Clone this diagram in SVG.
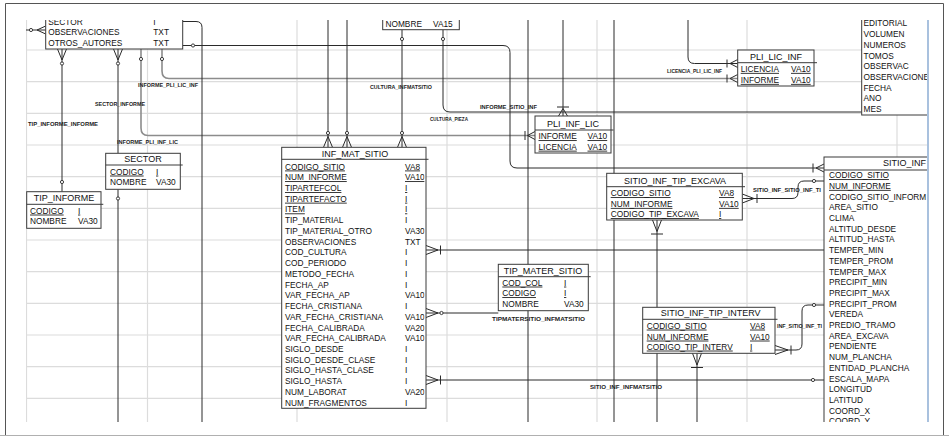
<svg xmlns="http://www.w3.org/2000/svg" width="949" height="436" viewBox="0 0 949 436">
<defs>
<style>
.grid{fill:none;stroke:#dcdcdc;stroke-width:1.2}
.ln{fill:none;stroke:#2a2a2a;stroke-width:1}
.lg{fill:none;stroke:#8c8c8c;stroke-width:1.6}
.ci{fill:#fff;stroke:#2a2a2a;stroke-width:0.9}
.box{fill:#fff;stroke:#3a3a3a;stroke-width:1}
.sep{fill:none;stroke:#3a3a3a;stroke-width:1}
.hd{font-family:"Liberation Sans",Arial,sans-serif;font-size:9px;fill:#111;text-anchor:middle}
.f{font-family:"Liberation Sans",Arial,sans-serif;font-size:8.3px;fill:#111}
.u{text-decoration:underline}
.lb{font-family:"Liberation Sans",Arial,sans-serif;font-size:5.5px;font-weight:bold;fill:#222}
</style>
<clipPath id="cv"><rect x="26" y="20" width="902" height="402"/></clipPath>
<clipPath id="cm"><rect x="282" y="147" width="142.5" height="262"/></clipPath>
</defs>
<rect x="0" y="0" width="949" height="436" fill="#fff"/>
<path d="M5.5,436V3.5H943.5V436" fill="none" stroke="#555" stroke-width="1"/>
<path d="M0,435.5H949" stroke="#b0b0b0" stroke-width="1"/>
<g clip-path="url(#cv)">
<g id="grid">
<path class="grid" d="M26,50H928M26,81.7H928M26,113.3H928M26,145H928M26,176.7H928M26,208.3H928M26,240H928M26,271.7H928M26,303.3H928M26,335H928M26,366.7H928M26,398.3H928M26.5,20V422M147.5,20V422M297,20V422M447,20V422M597,20V422M747,20V422M897,20V422"/>
</g>
<g id="connectors">
<path class="ln" d="M26,30H45.7M37,30L45.7,26M37,30L45.7,34"/>
<circle class="ci" cx="31" cy="30" r="1.6"/>
<path class="ln" d="M62,49V191.7M62,60L57.5,49M62,60L66.5,49"/>
<circle class="ci" cx="62" cy="63.5" r="1.6"/>
<circle class="ci" cx="62" cy="182" r="1.6"/>
<path class="ln" d="M118,49V153.3M118,60L113.5,49M118,60L122.5,49"/>
<circle class="ci" cx="118" cy="63.5" r="1.6"/>
<path class="ln" d="M118,189.3V422"/>
<circle class="ci" cx="118" cy="198.5" r="1.6"/>
<path class="lg" d="M141,49V128Q141,135.5 148,135.5H535"/>
<path class="ln" d="M525,131V140M527.5,135.5L535,131.5M527.5,135.5L535,139.5"/>
<circle class="ci" cx="141" cy="59" r="1.6"/>
<path class="lg" d="M162,49V71Q162,78.5 169,78.5H738"/>
<path class="ln" d="M727,74.5V82.5M730,78.5L737.7,74.5M730,78.5L737.7,82.5"/>
<circle class="ci" cx="162" cy="59" r="1.6"/>
<path class="ln" d="M182.7,21.5H196Q202,21.5 202,27.5V422"/>
<path class="ln" d="M182.7,45.5H503Q510,45.5 510,52.5V161Q510,168 517,168H824M813,163.5V172.5M816,168L824,164M816,168L824,172"/>
<circle class="ci" cx="193" cy="45.5" r="1.6"/>
<path class="ln" d="M328,20V147.3M328,136.5L323.5,147.3M328,136.5L332.5,147.3M347,20V147.3M347,136.5L342.5,147.3M347,136.5L351.5,147.3"/>
<circle class="ci" cx="328" cy="133" r="1.6"/>
<circle class="ci" cx="347" cy="133" r="1.6"/>
<path class="ln" d="M402,29.7V147.3M402,136.5L397.5,147.3M402,136.5L406.5,147.3"/>
<circle class="ci" cx="402" cy="39" r="1.6"/>
<circle class="ci" cx="402" cy="133" r="1.6"/>
<path class="ln" d="M443,29.7V105Q443,112 450,112H861.7"/>
<circle class="ci" cx="443" cy="39" r="1.6"/>
<path class="ln" d="M528,20V422"/>
<path class="ln" d="M563,20V116M557,107H569M563,108.5L558.5,116M563,108.5L567.5,116"/>
<path class="ln" d="M614,20V422"/>
<path class="ln" d="M688,20V57Q688,63.5 694.5,63.5H737.7M727,59.5V67.5M730,63.5L737.7,59.5M730,63.5L737.7,67.5"/>
<path class="ln" d="M426,250H824M438,250L426,245.5M438,250L426,254.5M440.5,245.5V254.5"/>
<path class="ln" d="M426,313H498.3M438,313L426,308.5M438,313L426,317.5"/>
<circle class="ci" cx="441.5" cy="313" r="1.6"/>
<path class="ln" d="M426,380H824M438,380L426,375.5M438,380L426,384.5M440.5,375.5V384.5"/>
<circle class="ci" cx="813" cy="380" r="1.6"/>
<path class="ln" d="M742.3,198.5H792Q798,198.5 798,192.5V187Q798,181 804,181H824M754,198.5L742.3,194M754,198.5L742.3,203M757,194V203"/>
<circle class="ci" cx="814" cy="181" r="1.6"/>
<path class="ln" d="M657,220V422M657,231.5L652.5,220M657,231.5L661.5,220M651,234H663"/>
<path class="ln" d="M697,353.3V422M697,365L692.5,353.3M697,365L701.5,353.3M691,367.5H703"/>
<path class="ln" d="M775,350H796Q802,350 802,344V311Q802,305 808,305H824M788,350L775,345.5M788,350L775,354.5M791,345.5V354.5"/>
<circle class="ci" cx="814" cy="305" r="1.6"/>
<text class="lb" x="138" y="87" textLength="60" lengthAdjust="spacingAndGlyphs">INFORME_PLI_LIC_INF</text>
<text class="lb" x="95" y="106.3" textLength="50" lengthAdjust="spacingAndGlyphs">SECTOR_INFORME</text>
<text class="lb" x="28" y="126" textLength="70" lengthAdjust="spacingAndGlyphs">TIP_INFORME_INFORME</text>
<text class="lb" x="117" y="144" textLength="61" lengthAdjust="spacingAndGlyphs">INFORME_PLI_INF_LIC</text>
<text class="lb" x="370" y="88.7" textLength="62" lengthAdjust="spacingAndGlyphs">CULTURA_INFMATSITIO</text>
<text class="lb" x="430" y="121.3" textLength="38" lengthAdjust="spacingAndGlyphs">CULTURA_PIEZA</text>
<text class="lb" x="480" y="109" textLength="57" lengthAdjust="spacingAndGlyphs">INFORME_SITIO_INF</text>
<text class="lb" x="667" y="73" textLength="55" lengthAdjust="spacingAndGlyphs">LICENCIA_PLI_LIC_INF</text>
<text class="lb" x="492" y="321.3" textLength="93" lengthAdjust="spacingAndGlyphs">TIPMATERSITIO_INFMATSITIO</text>
<text class="lb" x="590" y="389.3" textLength="72" lengthAdjust="spacingAndGlyphs">SITIO_INF_INFMATSITIO</text>
<text class="lb" x="753" y="191.5" textLength="68" lengthAdjust="spacingAndGlyphs">SITIO_INF_SITIO_INF_TI</text>
<text class="lb" x="777" y="328" textLength="45" lengthAdjust="spacingAndGlyphs">INF_SITIO_INF_TI</text>
</g>
<g id="informe">
<rect class="box" x="45.7" y="5" width="137" height="44"/>
<text class="f" x="48.3" y="24.75">SECTOR</text><text class="f" x="153.3" y="24.75">I</text>
<text class="f" x="48.3" y="35.45">OBSERVACIONES</text><text class="f" x="153.3" y="35.45">TXT</text>
<text class="f" x="48.3" y="46.15">OTROS_AUTORES</text><text class="f" x="153.3" y="46.15">TXT</text>
</g>
<g id="cultura">
<rect class="box" x="382.7" y="5" width="76.6" height="24.7"/>
<text class="f" x="385.5" y="27.3">NOMBRE</text><text class="f" x="433" y="27.3">VA15</text>
</g>
<g id="pieza">
<rect class="box" x="861.7" y="5" width="100" height="110"/>
<text class="f" x="863.5" y="26.4">EDITORIAL</text>
<text class="f" x="863.5" y="37.1">VOLUMEN</text>
<text class="f" x="863.5" y="47.8">NUMEROS</text>
<text class="f" x="863.5" y="58.5">TOMOS</text>
<text class="f" x="863.5" y="69.2">OBSERVAC</text>
<text class="f" x="863.5" y="79.9">OBSERVACIONE</text>
<text class="f" x="863.5" y="90.6">FECHA</text>
<text class="f" x="863.5" y="101.3">ANO</text>
<text class="f" x="863.5" y="112">MES</text>
</g>
<g id="pli_lic_inf">
<rect class="box" x="737.7" y="50" width="76.3" height="36"/>
<path class="sep" d="M737.7,62.7H817"/>
<text class="hd" x="776" y="60">PLI_LIC_INF</text>
<text class="f u" x="740.7" y="71.9">LICENCIA</text><text class="f u" x="791" y="71.9">VA10</text>
<text class="f u" x="740.7" y="82.9">INFORME</text><text class="f u" x="791" y="82.9">VA10</text>
</g>
<g id="pli_inf_lic">
<rect class="box" x="535" y="116" width="76" height="37"/>
<path class="sep" d="M535,130H613.5"/>
<text class="hd" x="573" y="126.9">PLI_INF_LIC</text>
<text class="f u" x="538.5" y="139.2">INFORME</text><text class="f u" x="587.5" y="139.2">VA10</text>
<text class="f u" x="538.5" y="149.7">LICENCIA</text><text class="f u" x="587.5" y="149.7">VA10</text>
</g>
<g id="sector">
<rect class="box" x="105.7" y="153.3" width="74.6" height="36"/>
<path class="sep" d="M105.7,165H182.7"/>
<text class="hd" x="143" y="161.9">SECTOR</text>
<text class="f u" x="110" y="174.6">CODIGO</text><text class="f u" x="156" y="174.6">I</text>
<text class="f" x="110" y="185.2">NOMBRE</text><text class="f" x="156" y="185.2">VA30</text>
</g>
<g id="tip_informe">
<rect class="box" x="26.7" y="191.7" width="74.3" height="36.6"/>
<path class="sep" d="M26.7,204.3H103.3"/>
<text class="hd" x="64" y="200.6">TIP_INFORME</text>
<text class="f u" x="30" y="213.6">CODIGO</text><text class="f u" x="78" y="213.6">I</text>
<text class="f" x="30" y="223.9">NOMBRE</text><text class="f" x="78" y="223.9">VA30</text>
</g>
<g id="inf_mat_sitio">
<rect class="box" x="281.7" y="147.3" width="144.3" height="261"/>
<path class="sep" d="M281.7,159.3H428.5"/>
<text class="hd" x="355" y="157.3">INF_MAT_SITIO</text>
<g clip-path="url(#cm)">
<text class="f u" x="285" y="169.5">CODIGO_SITIO</text><text class="f u" x="405" y="169.5">VA8</text>
<text class="f u" x="285" y="180.2">NUM_INFORME</text><text class="f u" x="405" y="180.2">VA10</text>
<text class="f u" x="285" y="191">TIPARTEFCOL</text><text class="f u" x="405" y="191">I</text>
<text class="f u" x="285" y="201.7">TIPARTEFACTO</text><text class="f u" x="405" y="201.7">I</text>
<text class="f u" x="285" y="212.4">ITEM</text><text class="f u" x="405" y="212.4">I</text>
<text class="f" x="285" y="223.2">TIP_MATERIAL</text><text class="f" x="405" y="223.2">I</text>
<text class="f" x="285" y="233.9">TIP_MATERIAL_OTRO</text><text class="f" x="405" y="233.9">VA30</text>
<text class="f" x="285" y="244.6">OBSERVACIONES</text><text class="f" x="405" y="244.6">TXT</text>
<text class="f" x="285" y="255.3">COD_CULTURA</text><text class="f" x="405" y="255.3">I</text>
<text class="f" x="285" y="266.1">COD_PERIODO</text><text class="f" x="405" y="266.1">I</text>
<text class="f" x="285" y="276.8">METODO_FECHA</text><text class="f" x="405" y="276.8">I</text>
<text class="f" x="285" y="287.5">FECHA_AP</text><text class="f" x="405" y="287.5">I</text>
<text class="f" x="285" y="298.3">VAR_FECHA_AP</text><text class="f" x="405" y="298.3">VA10</text>
<text class="f" x="285" y="309">FECHA_CRISTIANA</text><text class="f" x="405" y="309">I</text>
<text class="f" x="285" y="319.7">VAR_FECHA_CRISTIANA</text><text class="f" x="405" y="319.7">VA10</text>
<text class="f" x="285" y="330.5">FECHA_CALIBRADA</text><text class="f" x="405" y="330.5">VA20</text>
<text class="f" x="285" y="341.2">VAR_FECHA_CALIBRADA</text><text class="f" x="405" y="341.2">VA10</text>
<text class="f" x="285" y="351.9">SIGLO_DESDE</text><text class="f" x="405" y="351.9">I</text>
<text class="f" x="285" y="362.6">SIGLO_DESDE_CLASE</text><text class="f" x="405" y="362.6">I</text>
<text class="f" x="285" y="373.4">SIGLO_HASTA_CLASE</text><text class="f" x="405" y="373.4">I</text>
<text class="f" x="285" y="384.1">SIGLO_HASTA</text><text class="f" x="405" y="384.1">I</text>
<text class="f" x="285" y="394.8">NUM_LABORAT</text><text class="f" x="405" y="394.8">VA20</text>
<text class="f" x="285" y="405.6">NUM_FRAGMENTOS</text><text class="f" x="405" y="405.6">I</text>
</g>
</g>
<g id="tip_mater_sitio">
<rect class="box" x="498.3" y="264.3" width="90" height="46.4"/>
<path class="sep" d="M498.3,276.7H590.7"/>
<text class="hd" x="543" y="273.6">TIP_MATER_SITIO</text>
<text class="f u" x="502.3" y="285.6">COD_COL</text><text class="f u" x="564" y="285.6">I</text>
<text class="f u" x="502.3" y="296.2">CODIGO</text><text class="f u" x="564" y="296.2">I</text>
<text class="f" x="502.3" y="306.9">NOMBRE</text><text class="f" x="564" y="306.9">VA30</text>
</g>
<g id="sitio_inf_tip_excava">
<rect class="box" x="606.7" y="173.3" width="135.6" height="46.7"/>
<path class="sep" d="M606.7,186.7H745"/>
<text class="hd" x="675" y="183.6">SITIO_INF_TIP_EXCAVA</text>
<text class="f u" x="610.7" y="196.2">CODIGO_SITIO</text><text class="f u" x="719" y="196.2">VA8</text>
<text class="f u" x="610.7" y="206.9">NUM_INFORME</text><text class="f u" x="719" y="206.9">VA10</text>
<text class="f u" x="610.7" y="217.2">CODIGO_TIP_EXCAVA</text><text class="f u" x="719" y="217.2">I</text>
</g>
<g id="sitio_inf_tip_interv">
<rect class="box" x="642.7" y="307.3" width="132.3" height="46"/>
<path class="sep" d="M642.7,319.3H777.5"/>
<text class="hd" x="710.7" y="316.2">SITIO_INF_TIP_INTERV</text>
<text class="f u" x="646.7" y="328.6">CODIGO_SITIO</text><text class="f u" x="750" y="328.6">VA8</text>
<text class="f u" x="646.7" y="339.6">NUM_INFORME</text><text class="f u" x="750" y="339.6">VA10</text>
<text class="f u" x="646.7" y="349.6">CODIGO_TIP_INTERV</text><text class="f u" x="750" y="349.6">I</text>
</g>
<g id="sitio_inf">
<rect class="box" x="824" y="157" width="200" height="300"/>
<path class="sep" d="M824,170H928"/>
<text class="hd" x="883" y="166.2" style="text-anchor:start">SITIO_INF</text>
<text class="f u" x="829" y="178.2">CODIGO_SITIO</text>
<text class="f u" x="829" y="188.9">NUM_INFORME</text>
<text class="f" x="829" y="199.6">CODIGO_SITIO_INFORM</text>
<text class="f" x="829" y="210.3">AREA_SITIO</text>
<text class="f" x="829" y="221">CLIMA</text>
<text class="f" x="829" y="231.7">ALTITUD_DESDE</text>
<text class="f" x="829" y="242.4">ALTITUD_HASTA</text>
<text class="f" x="829" y="253.1">TEMPER_MIN</text>
<text class="f" x="829" y="263.8">TEMPER_PROM</text>
<text class="f" x="829" y="274.5">TEMPER_MAX</text>
<text class="f" x="829" y="285.2">PRECIPIT_MIN</text>
<text class="f" x="829" y="295.9">PRECIPIT_MAX</text>
<text class="f" x="829" y="306.6">PRECIPIT_PROM</text>
<text class="f" x="829" y="317.3">VEREDA</text>
<text class="f" x="829" y="328">PREDIO_TRAMO</text>
<text class="f" x="829" y="338.7">AREA_EXCAVA</text>
<text class="f" x="829" y="349.4">PENDIENTE</text>
<text class="f" x="829" y="360.1">NUM_PLANCHA</text>
<text class="f" x="829" y="370.8">ENTIDAD_PLANCHA</text>
<text class="f" x="829" y="381.5">ESCALA_MAPA</text>
<text class="f" x="829" y="392.2">LONGITUD</text>
<text class="f" x="829" y="402.9">LATITUD</text>
<text class="f" x="829" y="413.6">COORD_X</text>
<text class="f" x="829" y="424.3">COORD_Y</text>
</g>
</g>
<path d="M928,20V422" stroke="#a9c1de" stroke-width="2"/>
</svg>
